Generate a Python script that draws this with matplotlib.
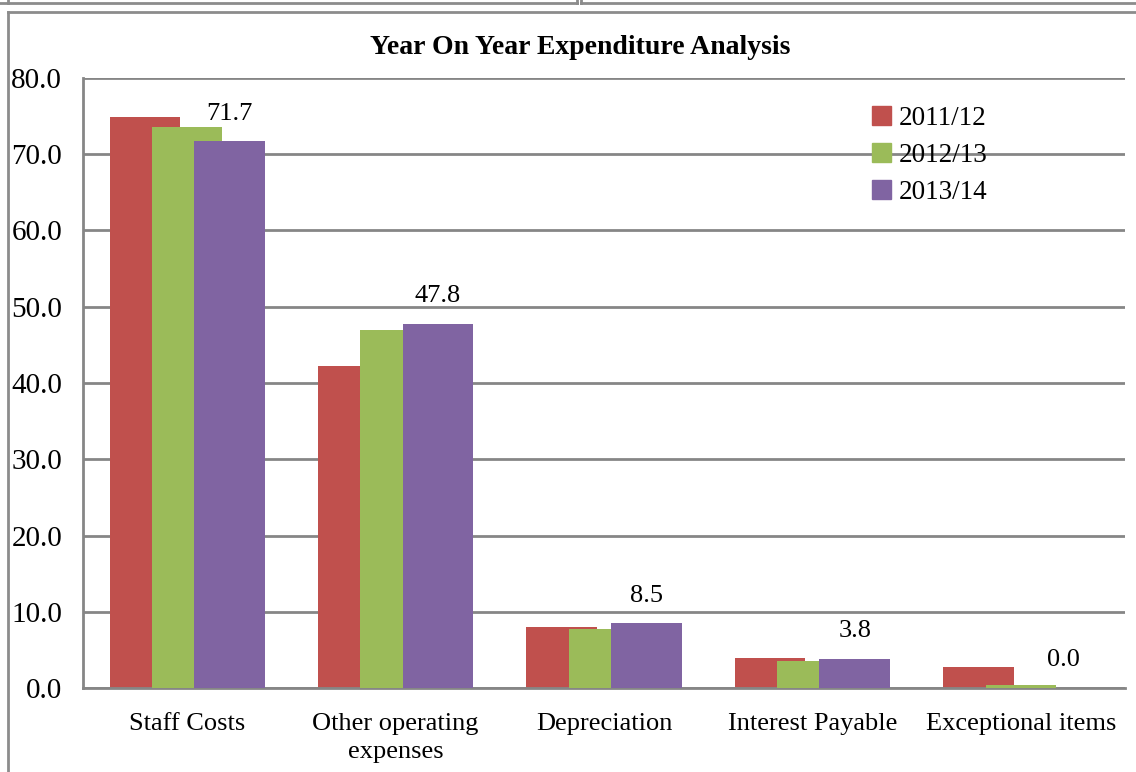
import numpy as np
import matplotlib.pyplot as plt
from matplotlib.lines import Line2D

plt.rcParams["font.family"] = ["Liberation Serif", "DejaVu Serif"]

# Expenditure by category, three financial years
categories = ["Staff Costs", "Other operating\nexpenses", "Depreciation",
              "Interest Payable", "Exceptional items"]
years = ["2011/12", "2012/13", "2013/14"]
y2011 = [74.9, 42.2, 8.0, 3.9, 2.8]
y2012 = [73.6, 46.9, 7.8, 3.5, 0.4]
y2013 = [71.7, 47.8, 8.5, 3.8, 0.0]
colors = ["#C0504D", "#9BBB59", "#8064A2"]

W, H = 1136, 772
fig = plt.figure(figsize=(W / 100, H / 100), dpi=100)
ax = fig.add_axes([83 / W, (H - 688) / H, (1125 - 83) / W, (688 - 78) / H])

x = np.arange(len(categories))
width = 0.338
step = 0.203
for i, (vals, lab, c) in enumerate(zip([y2011, y2012, y2013], years, colors)):
    ax.bar(x + (i - 1) * step, vals, width, color=c, label=lab, zorder=2 + i)

# value labels on the last series only
for xi, v in zip(x, y2013):
    ax.annotate(f"{v:.1f}", (xi + step, v), xytext=(0, 12), textcoords="offset points",
                ha="center", va="bottom", fontsize=19, zorder=10)

ax.set_xlim(-0.5, 4.5)
ax.set_ylim(0, 80)
ax.set_yticks(np.arange(0, 81, 10))
ax.set_yticklabels([f"{t:.1f}" for t in np.arange(0, 81, 10)])
ax.set_xticks(x)
ax.set_xticklabels(categories, linespacing=1.35)
ax.tick_params(axis="y", length=0, pad=15, labelsize=21)
ax.tick_params(axis="x", length=0, pad=18, labelsize=19)
ax.grid(axis="y", color="#868686", linewidth=2, zorder=0)
ax.set_axisbelow(True)
for s in ["top", "right"]:
    ax.spines[s].set_visible(False)
for s in ["left", "bottom"]:
    ax.spines[s].set_color("#868686")
    ax.spines[s].set_linewidth(2)

fig.text(580 / W, 1 - 48 / H, "Year On Year Expenditure Analysis", ha="center", va="center",
         fontsize=20, fontweight="bold")

handles = [plt.Rectangle((0, 0), 1, 1, color=c) for c in colors]
fig.legend(handles, years, loc="upper left", bbox_to_anchor=(872 / W, 1 - 106 / H),
           frameon=False, fontsize=19.5, handlelength=0.7, handleheight=0.7,
           handletextpad=0.3, labelspacing=0.45, borderpad=0, borderaxespad=0)

# outer borders of the chart area and the boxes above it
def fline(xs, ys, lw=2):
    fig.add_artist(Line2D([v / W for v in xs], [1 - v / H for v in ys],
                          color="#8c8c8c", linewidth=lw))

fline([8, 8], [12, H])
fline([8, W], [12, 12])
fline([0, 577], [2.5, 2.5])
fline([8, 8], [0, 2.5])
fline([577, 577], [0, 2.5])
fline([581, W], [2.5, 2.5])
fline([581, 581], [0, 2.5])

fig.savefig("out.png", dpi=100)
